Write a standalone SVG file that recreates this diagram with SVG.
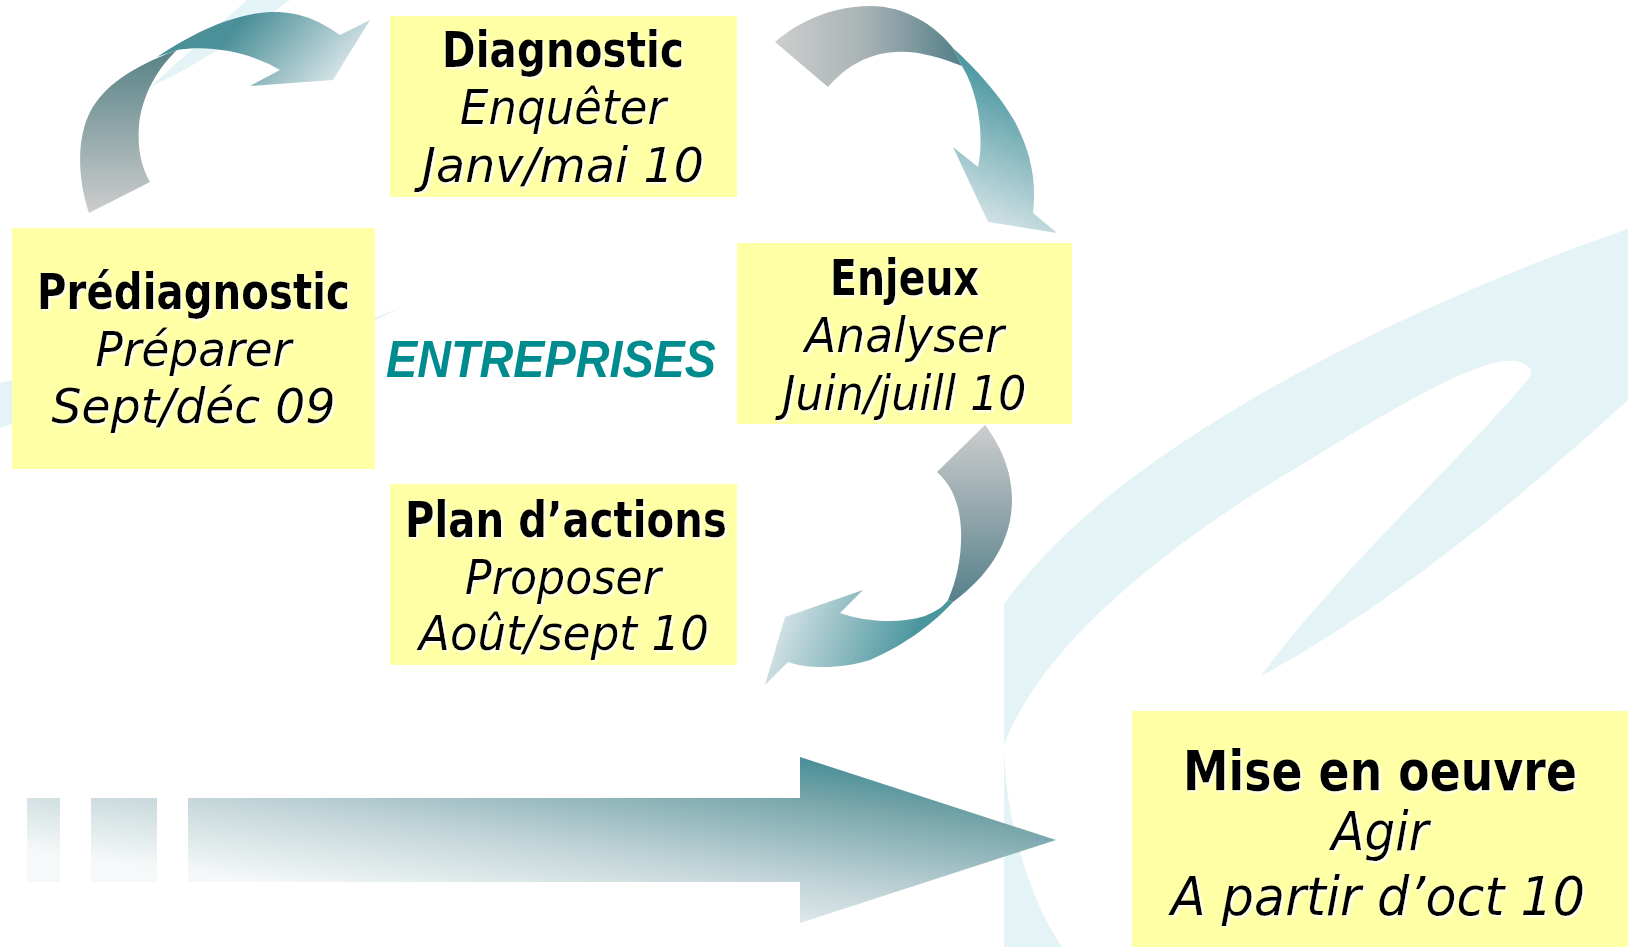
<svg xmlns="http://www.w3.org/2000/svg" width="1628" height="947" viewBox="0 0 1628 947">
  <style>
    .box { fill: #FFFFA6; }
    .bg { fill: #E4F3F5; }
    .t { font-family: "DejaVu Sans", "Liberation Sans", sans-serif; fill: #000; text-anchor: middle; }
    .b { font-weight: bold; font-size: 49px; }
    .i { font-style: italic; font-size: 48px; }
    .bl { font-weight: bold; font-size: 55px; }
    .il { font-style: italic; font-size: 54px; }
    .lbl { font-family: "Liberation Sans", Arial, sans-serif; font-weight: bold; font-style: italic; font-size: 52px; fill: #008B8F; }
  </style>
  <defs>
    <filter id="sh" x="-5%" y="-30%" width="110%" height="160%">
      <feDropShadow dx="2" dy="2" stdDeviation="0.8" flood-color="#FFFFFF" flood-opacity="0.9"/>
    </filter>
    <clipPath id="clipR"><rect x="1004" y="0" width="624" height="947"/></clipPath>
    <linearGradient id="a1l" gradientUnits="userSpaceOnUse" x1="0" y1="213" x2="0" y2="55">
      <stop offset="0" stop-color="#CDCDCD"/><stop offset="1" stop-color="#5A8488"/>
    </linearGradient>
    <linearGradient id="a1u" gradientUnits="userSpaceOnUse" x1="250" y1="12" x2="330" y2="85">
      <stop offset="0" stop-color="#4B8F98"/><stop offset="1" stop-color="#D4E3E6"/>
    </linearGradient>
    <linearGradient id="a2a" gradientUnits="userSpaceOnUse" x1="775" y1="0" x2="958" y2="0">
      <stop offset="0" stop-color="#CECECE"/><stop offset="0.5" stop-color="#A7B2B4"/><stop offset="1" stop-color="#56808A"/>
    </linearGradient>
    <linearGradient id="a2b" gradientUnits="userSpaceOnUse" x1="1035" y1="90" x2="975" y2="220">
      <stop offset="0" stop-color="#4A96A0"/><stop offset="1" stop-color="#D5E4E7"/>
    </linearGradient>
    <linearGradient id="a3a" gradientUnits="userSpaceOnUse" x1="0" y1="425" x2="0" y2="602">
      <stop offset="0" stop-color="#CDCDCD"/><stop offset="1" stop-color="#56808A"/>
    </linearGradient>
    <linearGradient id="a3b" gradientUnits="userSpaceOnUse" x1="905" y1="665" x2="780" y2="620">
      <stop offset="0" stop-color="#4A959E"/><stop offset="1" stop-color="#D3E2E5"/>
    </linearGradient>
    <linearGradient id="big" gradientUnits="userSpaceOnUse" x1="820" y1="750" x2="790" y2="960">
      <stop offset="0" stop-color="#3D8893"/><stop offset="0.24" stop-color="#78A6AB"/><stop offset="0.64" stop-color="#C4D6D9"/><stop offset="1" stop-color="#F6F9F9"/>
    </linearGradient>
  </defs>

  <rect width="1628" height="947" fill="#FFFFFF"/>

  <g id="background">
    <path class="bg" d="M150,87 L247,0 L290,0 Q230,45 175,75 Z"/>
    <path class="bg" d="M0,383 C150,345 330,345 402,306 C330,352 150,375 0,428 Z"/>
    <path class="bg" clip-path="url(#clipR)" d="M1628,229 C1420,300 1180,420 1060,540 C1010,590 990,620 980,650 L980,947 L1062,947 C1030,900 1005,820 1004,745 C1040,650 1150,560 1260,490 C1360,430 1480,350 1520,362 Q1536,368 1529,378 C1470,450 1330,580 1261,676 Q1420,590 1628,400 Z"/>
  </g>

  <g id="connectors">
    <g id="arrow-prediag-diag">
      <path fill="url(#a1l)" d="M89,213 C78,180 76,140 90,112 C105,85 130,68 177,50 C158,68 142,95 139,125 C137,150 142,168 150,182 Z"/>
      <path fill="url(#a1u)" d="M157,57 C190,35 230,14 270,12 C300,11 322,22 340,35 L370,20 L333,80 L250,86 L280,70 C255,55 215,44 177,50 Z"/>
    </g>
    <g id="arrow-diag-enjeux">
      <path fill="url(#a2a)" d="M775,42 C800,20 835,6 870,6 C905,6 935,25 953,48 L962,66 C940,57 915,50 895,52 C865,54 845,68 828,87 Z"/>
      <path fill="url(#a2b)" d="M953,48 C975,68 1000,95 1015,122 C1030,150 1037,180 1033,213 L1057,233 L988,222 L953,147 L978,167 C984,140 980,95 962,66 Z"/>
    </g>
    <g id="arrow-enjeux-plan">
      <path fill="url(#a3a)" d="M985,425 C1000,445 1012,470 1012,500 C1012,540 990,575 953,602 L948,600 C957,580 962,555 961,530 C960,505 952,485 937,472 Z"/>
      <path fill="url(#a3b)" d="M953,602 C935,622 905,645 870,660 C845,668 810,670 788,662 L765,685 L785,617 L863,590 L840,613 C865,622 900,624 925,616 C937,611 944,606 948,600 Z"/>
    </g>
    <g id="arrow-mise-en-oeuvre" fill="url(#big)">
      <rect x="27" y="798" width="33" height="84"/>
      <rect x="91" y="798" width="66" height="84"/>
      <path d="M188,798 L800,798 L800,757 L1056,840 L800,923 L800,882 L188,882 Z"/>
    </g>
  </g>

  <g id="node-prediagnostic">
    <rect class="box" x="12" y="228" width="363" height="241"/>
    <g filter="url(#sh)">
      <text class="t b" x="193.5" y="309" textLength="313" lengthAdjust="spacingAndGlyphs">Prédiagnostic</text>
      <text class="t i" x="193.5" y="366" textLength="196" lengthAdjust="spacingAndGlyphs">Préparer</text>
      <text class="t i" x="193.5" y="423" textLength="284" lengthAdjust="spacingAndGlyphs">Sept/déc 09</text>
    </g>
  </g>

  <g id="node-diagnostic">
    <rect class="box" x="390" y="16" width="347" height="181"/>
    <g filter="url(#sh)">
      <text class="t b" x="563" y="67" textLength="242" lengthAdjust="spacingAndGlyphs">Diagnostic</text>
      <text class="t i" x="563" y="124" textLength="206" lengthAdjust="spacingAndGlyphs">Enquêter</text>
      <text class="t i" x="563" y="182" textLength="282" lengthAdjust="spacingAndGlyphs">Janv/mai 10</text>
    </g>
  </g>

  <g id="node-enjeux">
    <rect class="box" x="737" y="243" width="335" height="181"/>
    <g filter="url(#sh)">
      <text class="t b" x="904.5" y="295" textLength="149" lengthAdjust="spacingAndGlyphs">Enjeux</text>
      <text class="t i" x="904.5" y="352" textLength="199" lengthAdjust="spacingAndGlyphs">Analyser</text>
      <text class="t i" x="904.5" y="410" textLength="244" lengthAdjust="spacingAndGlyphs">Juin/juill 10</text>
    </g>
  </g>

  <g id="node-plan">
    <rect class="box" x="390" y="484" width="347" height="181"/>
    <g filter="url(#sh)">
      <text class="t b" x="566" y="537" textLength="322" lengthAdjust="spacingAndGlyphs">Plan d’actions</text>
      <text class="t i" x="563" y="594" textLength="196" lengthAdjust="spacingAndGlyphs">Proposer</text>
      <text class="t i" x="564" y="650" textLength="290" lengthAdjust="spacingAndGlyphs">Août/sept 10</text>
    </g>
  </g>

  <g id="node-mise-en-oeuvre">
    <rect class="box" x="1132" y="711" width="496" height="236"/>
    <g filter="url(#sh)">
      <text class="t bl" x="1380" y="790" textLength="394" lengthAdjust="spacingAndGlyphs">Mise en oeuvre</text>
      <text class="t il" x="1380" y="850" textLength="97" lengthAdjust="spacingAndGlyphs">Agir</text>
      <text class="t il" x="1378" y="915" textLength="414" lengthAdjust="spacingAndGlyphs">A partir d’oct 10</text>
    </g>
  </g>

  <g id="label-entreprises">
    <text class="lbl" x="386" y="377" textLength="330" lengthAdjust="spacingAndGlyphs">ENTREPRISES</text>
  </g>
</svg>
